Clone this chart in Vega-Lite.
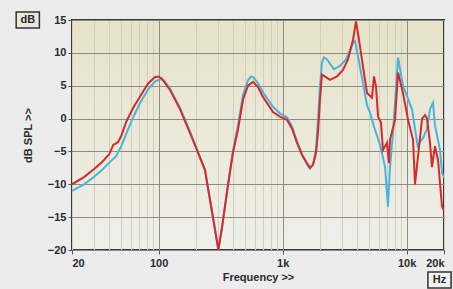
{
  "$schema": "https://vega.github.io/schema/vega-lite/v6.json",
  "width": 372,
  "height": 230,
  "autosize": "none",
  "padding": {"left": 72, "top": 20, "right": 9, "bottom": 39},
  "background": "#ECECEC",
  "config": {
    "font": "Liberation Sans",
    "view": {
      "stroke": "#3A3A3A",
      "strokeWidth": 2,
      "fill": {"gradient": "linear", "x1": 0, "y1": 0, "x2": 0, "y2": 1, "stops": [{"offset": 0, "color": "#E6E3C8"}, {"offset": 1, "color": "#EFEFEB"}]}
    },
    "axis": {
      "labelFont": "Liberation Sans",
      "labelFontWeight": "bold",
      "labelFontSize": 11,
      "labelColor": "#2B2B2B",
      "titleFont": "Liberation Sans",
      "titleFontWeight": "bold",
      "titleFontSize": 11,
      "titleColor": "#2B2B2B",
      "domain": false,
      "tickColor": "#555555",
      "tickSize": 4,
      "labelOverlap": false
    }
  },
  "datasets": {
    "blue": [
      {"f": 20, "db": -11.0}, {"f": 25, "db": -10.0}, {"f": 30, "db": -8.9}, {"f": 35, "db": -7.8}, {"f": 40, "db": -6.7}, {"f": 45, "db": -5.8}, {"f": 50, "db": -4.2}, {"f": 55, "db": -2.2}, {"f": 63, "db": 0.4}, {"f": 71, "db": 2.4}, {"f": 82, "db": 4.4}, {"f": 93, "db": 5.6}, {"f": 103, "db": 6.0}, {"f": 110, "db": 5.8}, {"f": 123, "db": 4.6}, {"f": 149, "db": 1.6}, {"f": 179, "db": -2.0}, {"f": 196, "db": -3.9}, {"f": 236, "db": -7.8}, {"f": 274, "db": -15.0}, {"f": 303, "db": -20.0}, {"f": 324, "db": -16.6}, {"f": 343, "db": -13.3}, {"f": 362, "db": -10.0}, {"f": 397, "db": -5.0}, {"f": 436, "db": -1.0}, {"f": 479, "db": 3.6}, {"f": 525, "db": 5.8}, {"f": 556, "db": 6.4}, {"f": 577, "db": 6.3}, {"f": 632, "db": 5.4}, {"f": 694, "db": 4.0}, {"f": 836, "db": 1.8}, {"f": 951, "db": 0.8}, {"f": 1084, "db": 0.2}, {"f": 1189, "db": -1.2}, {"f": 1306, "db": -3.5}, {"f": 1432, "db": -5.5}, {"f": 1571, "db": -7.0}, {"f": 1661, "db": -7.6}, {"f": 1758, "db": -7.0}, {"f": 1859, "db": -4.5}, {"f": 1929, "db": 0.0}, {"f": 2000, "db": 5.0}, {"f": 2075, "db": 8.5}, {"f": 2153, "db": 9.3}, {"f": 2277, "db": 9.0}, {"f": 2594, "db": 7.5}, {"f": 2899, "db": 8.0}, {"f": 3243, "db": 9.0}, {"f": 3692, "db": 11.5}, {"f": 3829, "db": 11.8}, {"f": 4048, "db": 9.5}, {"f": 4446, "db": 5.4}, {"f": 4788, "db": 2.0}, {"f": 5064, "db": 0.9}, {"f": 5448, "db": -1.2}, {"f": 6095, "db": -4.0}, {"f": 6685, "db": -7.3}, {"f": 7064, "db": -13.4}, {"f": 7340, "db": -7.3}, {"f": 7762, "db": -2.1}, {"f": 8514, "db": 9.3}, {"f": 9340, "db": 5.0}, {"f": 10260, "db": 3.0}, {"f": 11040, "db": 1.4}, {"f": 11670, "db": -1.5}, {"f": 12330, "db": -4.5}, {"f": 12800, "db": -3.5}, {"f": 13550, "db": -3.0}, {"f": 14590, "db": -1.5}, {"f": 15420, "db": 1.4}, {"f": 16300, "db": 2.4}, {"f": 16910, "db": -1.0}, {"f": 18570, "db": -4.8}, {"f": 19280, "db": -8.2}, {"f": 20000, "db": -9.0}
    ],
    "red": [
      {"f": 20, "db": -10.0}, {"f": 25, "db": -8.9}, {"f": 30, "db": -7.7}, {"f": 35, "db": -6.6}, {"f": 40, "db": -5.4}, {"f": 43, "db": -4.0}, {"f": 47, "db": -3.6}, {"f": 50, "db": -2.6}, {"f": 55, "db": -0.4}, {"f": 63, "db": 1.8}, {"f": 71, "db": 3.4}, {"f": 82, "db": 5.3}, {"f": 93, "db": 6.3}, {"f": 99, "db": 6.4}, {"f": 106, "db": 6.1}, {"f": 123, "db": 4.4}, {"f": 149, "db": 1.4}, {"f": 179, "db": -2.2}, {"f": 196, "db": -4.0}, {"f": 236, "db": -7.8}, {"f": 274, "db": -15.0}, {"f": 303, "db": -20.0}, {"f": 324, "db": -16.6}, {"f": 343, "db": -13.3}, {"f": 362, "db": -10.2}, {"f": 397, "db": -5.2}, {"f": 436, "db": -1.7}, {"f": 479, "db": 2.9}, {"f": 525, "db": 5.0}, {"f": 577, "db": 5.6}, {"f": 632, "db": 4.8}, {"f": 694, "db": 3.3}, {"f": 836, "db": 1.0}, {"f": 951, "db": 0.3}, {"f": 1084, "db": -0.2}, {"f": 1189, "db": -1.5}, {"f": 1306, "db": -3.7}, {"f": 1432, "db": -5.5}, {"f": 1571, "db": -6.8}, {"f": 1661, "db": -7.5}, {"f": 1758, "db": -7.0}, {"f": 1859, "db": -5.2}, {"f": 1929, "db": -2.0}, {"f": 2000, "db": 2.9}, {"f": 2075, "db": 6.7}, {"f": 2153, "db": 6.5}, {"f": 2409, "db": 5.9}, {"f": 2743, "db": 6.4}, {"f": 3065, "db": 7.4}, {"f": 3364, "db": 9.0}, {"f": 3692, "db": 12.0}, {"f": 3900, "db": 14.8}, {"f": 4048, "db": 13.0}, {"f": 4446, "db": 7.9}, {"f": 4788, "db": 3.9}, {"f": 5250, "db": 3.2}, {"f": 5448, "db": 6.4}, {"f": 5658, "db": 4.9}, {"f": 5875, "db": 0.3}, {"f": 6208, "db": -0.6}, {"f": 6442, "db": -4.8}, {"f": 6935, "db": -3.7}, {"f": 7194, "db": -6.8}, {"f": 7340, "db": -3.2}, {"f": 8054, "db": -0.2}, {"f": 8514, "db": 7.0}, {"f": 9340, "db": 3.9}, {"f": 10260, "db": -0.2}, {"f": 11250, "db": -3.2}, {"f": 11670, "db": -10.0}, {"f": 12800, "db": -3.0}, {"f": 13300, "db": 0.0}, {"f": 14060, "db": 0.5}, {"f": 14590, "db": 0.0}, {"f": 15420, "db": -3.7}, {"f": 16000, "db": -7.4}, {"f": 16910, "db": -4.2}, {"f": 17900, "db": -6.3}, {"f": 19280, "db": -13.4}, {"f": 20000, "db": -14.0}
    ]
  },
  "layer": [
    {
      "data": {"name": "blue"},
      "mark": {"type": "line", "color": "#45B5E0", "strokeWidth": 2, "clip": true},
      "encoding": {
        "x": {
          "field": "f", "type": "quantitative",
          "scale": {"type": "log", "domain": [20, 20000]},
          "axis": {
            "values": [20, 30, 40, 50, 60, 70, 80, 90, 100, 200, 300, 400, 500, 600, 700, 800, 900, 1000, 2000, 3000, 4000, 5000, 6000, 7000, 8000, 9000, 10000, 20000],
            "labelExpr": "datum.value == 20 ? '20' : datum.value == 100 ? '100' : datum.value == 1000 ? '1k' : datum.value == 10000 ? '10k' : datum.value == 20000 ? '20k' : ''",
            "labelPadding": 3,
            "grid": true,
            "gridColor": {"condition": {"test": "indexof([100, 1000, 10000], datum.value) >= 0", "value": "#8E8C80"}, "value": "#D3D0BA"},
            "gridWidth": 1,
            "tickOpacity": {"condition": {"test": "indexof([20, 100, 1000, 10000, 20000], datum.value) >= 0", "value": 1}, "value": 0},
            "title": "Frequency >>",
            "titlePadding": 3
          }
        },
        "y": {
          "field": "db", "type": "quantitative",
          "scale": {"domain": [-20, 15], "nice": false, "zero": false},
          "axis": {
            "values": [-20, -15, -10, -5, 0, 5, 10, 15],
            "tickCount": 8,
            "labelOverlap": false,
            "grid": true,
            "gridColor": "#8E8C80",
            "labelPadding": 2,
            "title": "dB SPL >>",
            "titlePadding": 14
          }
        }
      }
    },
    {
      "data": {"name": "red"},
      "mark": {"type": "line", "color": "#D8282A", "strokeWidth": 2, "clip": true},
      "encoding": {
        "x": {"field": "f", "type": "quantitative", "scale": {"type": "log", "domain": [20, 20000]}},
        "y": {
          "field": "db", "type": "quantitative",
          "scale": {"domain": [-20, 15], "nice": false, "zero": false},
          "axis": {
            "values": [-20, -15, -10, -5, 0, 5, 10, 15],
            "tickCount": 8,
            "labelOverlap": false,
            "grid": true,
            "gridColor": "#8E8C80",
            "labelPadding": 2,
            "title": "dB SPL >>",
            "titlePadding": 14
          }
        }
      }
    },
    {
      "data": {"values": [{"label": "dB"}]},
      "mark": {"type": "point", "shape": "M-1.45,-1H1.45V1H-1.45Z", "filled": true, "fill": "#E8E8DE", "stroke": "#333333", "strokeWidth": 1.5, "opacity": 1, "size": 256},
      "encoding": {
        "x": {"datum": 8.8, "type": "quantitative", "scale": {"type": "log", "domain": [20, 20000]}},
        "y": {"datum": 15, "type": "quantitative", "scale": {"domain": [-20, 15], "nice": false, "zero": false}}
      }
    },
    {
      "data": {"values": [{"label": "dB"}]},
      "mark": {"type": "text", "font": "Liberation Sans", "fontWeight": "bold", "fontSize": 11, "color": "#2B2B2B", "align": "center", "baseline": "middle"},
      "encoding": {
        "x": {"datum": 8.8, "type": "quantitative", "scale": {"type": "log", "domain": [20, 20000]}},
        "y": {"datum": 15, "type": "quantitative", "scale": {"domain": [-20, 15], "nice": false, "zero": false}},
        "text": {"field": "label"}
      }
    },
    {
      "data": {"values": [{"label": "Hz"}]},
      "mark": {"type": "point", "shape": "M-1.45,-1H1.45V1H-1.45Z", "filled": true, "fill": "#F0F0EC", "stroke": "#333333", "strokeWidth": 1.5, "opacity": 1, "size": 256},
      "encoding": {
        "x": {"datum": 18400, "type": "quantitative", "scale": {"type": "log", "domain": [20, 20000]}},
        "y": {"datum": -24.56, "type": "quantitative", "scale": {"domain": [-20, 15], "nice": false, "zero": false}}
      }
    },
    {
      "data": {"values": [{"label": "Hz"}]},
      "mark": {"type": "text", "font": "Liberation Sans", "fontWeight": "bold", "fontSize": 11, "color": "#2B2B2B", "align": "center", "baseline": "middle"},
      "encoding": {
        "x": {"datum": 18400, "type": "quantitative", "scale": {"type": "log", "domain": [20, 20000]}},
        "y": {"datum": -24.56, "type": "quantitative", "scale": {"domain": [-20, 15], "nice": false, "zero": false}},
        "text": {"field": "label"}
      }
    }
  ]
}
